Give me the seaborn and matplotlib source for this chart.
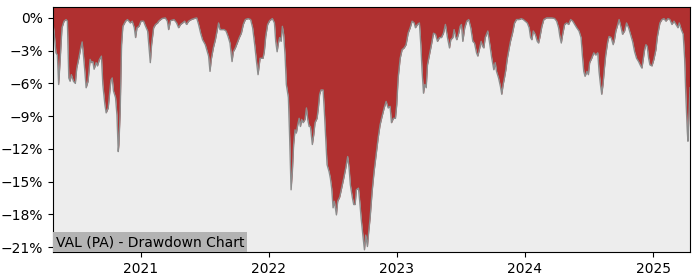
import datetime as dt
import numpy as np
import pandas as pd
import matplotlib
matplotlib.use("Agg")
import matplotlib.pyplot as plt
import matplotlib.dates as mdates
import matplotlib.ticker as mticker
import seaborn as sns

TITLE = "VAL (PA) - Drawdown Chart"

# dates as decimal years, drawdown in percent
year_pos = [
    2020.318, 2020.326, 2020.341, 2020.352, 2020.362, 2020.373, 2020.388, 2020.404, 2020.420, 2020.430,
    2020.441, 2020.451, 2020.461, 2020.477, 2020.492, 2020.503, 2020.519, 2020.534, 2020.545, 2020.555,
    2020.566, 2020.576, 2020.591, 2020.607, 2020.617, 2020.628, 2020.638, 2020.654, 2020.664, 2020.680,
    2020.695, 2020.706, 2020.722, 2020.732, 2020.748, 2020.758, 2020.769, 2020.779, 2020.789, 2020.805,
    2020.816, 2020.826, 2020.831, 2020.841, 2020.852, 2020.862, 2020.883, 2020.898, 2020.920, 2020.935,
    2020.951, 2020.961, 2020.972, 2020.988, 2021.003, 2021.023, 2021.039, 2021.055, 2021.066, 2021.076,
    2021.086, 2021.102, 2021.117, 2021.133, 2021.141, 2021.167, 2021.193, 2021.209, 2021.219, 2021.234,
    2021.261, 2021.281, 2021.297, 2021.312, 2021.328, 2021.344, 2021.359, 2021.375, 2021.396, 2021.417,
    2021.438, 2021.453, 2021.469, 2021.484, 2021.505, 2021.521, 2021.531, 2021.542, 2021.552, 2021.568,
    2021.584, 2021.599, 2021.609, 2021.620, 2021.636, 2021.652, 2021.667, 2021.683, 2021.698, 2021.714,
    2021.724, 2021.740, 2021.755, 2021.771, 2021.787, 2021.802, 2021.818, 2021.839, 2021.859, 2021.875,
    2021.891, 2021.906, 2021.917, 2021.933, 2021.956, 2021.966, 2021.977, 2021.992, 2022.008, 2022.029,
    2022.045, 2022.055, 2022.066, 2022.076, 2022.086, 2022.097, 2022.107, 2022.117, 2022.128, 2022.138,
    2022.154, 2022.164, 2022.175, 2022.185, 2022.195, 2022.206, 2022.216, 2022.227, 2022.238, 2022.248,
    2022.258, 2022.269, 2022.284, 2022.295, 2022.305, 2022.316, 2022.326, 2022.341, 2022.352, 2022.362,
    2022.378, 2022.388, 2022.398, 2022.409, 2022.425, 2022.435, 2022.445, 2022.456, 2022.472, 2022.482,
    2022.492, 2022.503, 2022.513, 2022.529, 2022.539, 2022.555, 2022.570, 2022.586, 2022.602, 2022.617,
    2022.628, 2022.638, 2022.654, 2022.664, 2022.675, 2022.685, 2022.701, 2022.711, 2022.722, 2022.738,
    2022.748, 2022.758, 2022.771, 2022.781, 2022.792, 2022.808, 2022.823, 2022.839, 2022.855, 2022.870,
    2022.886, 2022.902, 2022.917, 2022.933, 2022.948, 2022.959, 2022.974, 2022.990, 2023.000, 2023.011,
    2023.027, 2023.042, 2023.058, 2023.073, 2023.089, 2023.105, 2023.120, 2023.136, 2023.146, 2023.162,
    2023.177, 2023.188, 2023.198, 2023.209, 2023.219, 2023.230, 2023.240, 2023.255, 2023.271, 2023.287,
    2023.302, 2023.318, 2023.334, 2023.349, 2023.365, 2023.380, 2023.396, 2023.412, 2023.422, 2023.438,
    2023.448, 2023.459, 2023.469, 2023.484, 2023.495, 2023.505, 2023.516, 2023.531, 2023.547, 2023.562,
    2023.578, 2023.594, 2023.607, 2023.623, 2023.633, 2023.648, 2023.659, 2023.670, 2023.680, 2023.691,
    2023.701, 2023.711, 2023.727, 2023.742, 2023.758, 2023.769, 2023.779, 2023.795, 2023.810, 2023.820,
    2023.831, 2023.841, 2023.852, 2023.862, 2023.878, 2023.888, 2023.904, 2023.920, 2023.935, 2023.956,
    2023.972, 2023.988, 2024.003, 2024.019, 2024.034, 2024.045, 2024.055, 2024.066, 2024.081, 2024.097,
    2024.107, 2024.117, 2024.133, 2024.148, 2024.170, 2024.191, 2024.211, 2024.232, 2024.248, 2024.263,
    2024.273, 2024.284, 2024.295, 2024.310, 2024.326, 2024.341, 2024.357, 2024.373, 2024.388, 2024.404,
    2024.422, 2024.438, 2024.448, 2024.459, 2024.469, 2024.484, 2024.495, 2024.505, 2024.521, 2024.537,
    2024.552, 2024.568, 2024.578, 2024.589, 2024.599, 2024.609, 2024.620, 2024.630, 2024.646, 2024.656,
    2024.672, 2024.688, 2024.698, 2024.709, 2024.724, 2024.734, 2024.750, 2024.761, 2024.777, 2024.792,
    2024.808, 2024.823, 2024.839, 2024.855, 2024.870, 2024.886, 2024.902, 2024.912, 2024.922, 2024.933,
    2024.943, 2024.953, 2024.964, 2024.974, 2024.990, 2025.005, 2025.021, 2025.031, 2025.042, 2025.052,
    2025.068, 2025.084, 2025.099, 2025.115, 2025.130, 2025.146, 2025.162, 2025.177, 2025.193, 2025.203,
    2025.219, 2025.234, 2025.245, 2025.255, 2025.266, 2025.271, 2025.281, 2025.287,
]

drawdown_pct = [
    -0.5, -1.25, -3.2, -3.4, -6.1, -4.0, -0.9, -0.3, -0.15, -0.3,
    -5.5, -5.8, -5.2, -5.8, -6.0, -4.6, -3.7, -2.75, -2.2, -3.4,
    -4.9, -6.4, -5.8, -3.8, -4.1, -4.0, -4.7, -4.1, -4.4, -3.8,
    -3.5, -6.1, -7.95, -8.7, -8.25, -7.0, -5.7, -5.5, -6.7, -7.3,
    -8.9, -12.25, -11.6, -8.6, -2.45, -0.77, -0.3, -0.15, -0.46, -0.3,
    -0.9, -1.8, -0.9, -0.77, -0.3, -0.3, -0.77, -1.2, -2.75, -4.1,
    -2.45, -0.9, -0.6, -0.46, -0.3, -0.06, 0.0, -0.3, -1.07, -0.25,
    -0.15, -0.46, -0.9, -0.6, -0.46, -0.3, -0.6, -0.3, -0.15, -0.06,
    0.0, -0.6, -1.4, -2.0, -2.45, -3.1, -3.5, -4.9, -3.8, -2.75,
    -2.0, -1.07, -0.46, -1.07, -1.07, -1.07, -1.2, -1.7, -2.3, -4.0,
    -3.1, -2.75, -2.3, -1.8, -1.4, -0.6, -0.15, -0.06, -0.15, -0.9,
    -2.45, -4.1, -5.2, -3.7, -3.7, -3.1, -1.7, -0.6, -0.25, -0.06,
    -0.46, -2.15, -3.1, -2.3, -1.8, -2.15, -0.77, -1.5, -3.4, -6.1,
    -7.3, -11.0, -15.75, -14.1, -11.6, -10.25, -10.55, -9.8, -9.2, -9.95,
    -9.3, -9.6, -9.3, -8.25, -9.3, -9.95, -9.95, -11.6, -10.7, -9.6,
    -9.2, -8.25, -7.0, -6.6, -6.6, -8.6, -11.0, -13.45, -14.1, -14.7,
    -15.6, -17.4, -16.8, -18.05, -16.8, -16.4, -15.6, -14.7, -13.75, -12.7,
    -13.75, -15.3, -16.5, -17.1, -17.1, -15.75, -15.6, -16.8, -18.35, -20.2,
    -21.25, -19.9, -20.95, -19.6, -18.35, -15.9, -14.1, -12.55, -11.0, -9.8,
    -9.0, -8.25, -7.65, -8.25, -8.1, -9.6, -9.2, -9.2, -7.95, -5.5,
    -3.7, -2.9, -2.75, -2.45, -1.4, -0.9, -0.3, -0.46, -0.9, -0.6,
    -0.46, -2.45, -4.9, -6.9, -6.1, -6.4, -4.3, -3.4, -2.45, -1.4,
    -1.5, -2.15, -1.8, -1.8, -1.4, -0.6, -1.8, -2.75, -2.0, -1.8,
    -1.07, -1.7, -2.0, -1.4, -0.77, -0.6, -2.15, -0.9, -0.3, -0.15,
    -0.9, -2.15, -2.3, -3.2, -3.5, -2.75, -2.15, -2.6, -2.75, -1.8,
    -1.5, -1.2, -2.45, -3.7, -4.75, -4.1, -4.9, -5.5, -6.3, -7.0,
    -6.1, -5.5, -4.75, -3.8, -2.75, -2.15, -1.4, -0.46, -0.15, -0.15,
    -0.06, -0.15, -0.3, -0.46, -0.9, -1.8, -2.0, -1.2, -1.5, -2.15,
    -2.3, -1.8, -0.77, -0.15, 0.0, 0.0, 0.0, -0.06, -0.3, -0.9,
    -1.7, -2.3, -1.5, -0.6, -0.46, -0.6, -0.15, -0.3, -0.6, -0.9,
    -1.2, -1.8, -3.4, -4.9, -5.35, -4.9, -5.2, -4.1, -3.7, -3.2,
    -3.4, -3.2, -4.9, -6.1, -7.0, -6.1, -4.6, -3.4, -2.15, -1.7,
    -1.8, -2.45, -2.0, -1.2, -0.6, -0.15, -0.9, -1.5, -1.2, -0.46,
    -0.9, -1.5, -2.15, -3.1, -3.7, -4.0, -4.4, -4.6, -3.8, -2.9,
    -2.45, -2.6, -3.7, -4.3, -4.4, -3.8, -2.9, -1.8, -1.07, -0.46,
    -0.15, -0.06, -0.3, -0.06, -0.15, -0.6, -0.3, -0.6, -0.9, -0.46,
    -1.07, -1.5, -3.7, -7.3, -10.4, -11.3, -8.25, -6.4,
]

y_ticks = [0, -3, -6, -9, -12, -15, -18, -21]
y_limits = (-21.45, 1.0)

FILL_COLOR = "#B03030"
LINE_COLOR = "#8C8C8C"
BG_COLOR = "#EDEDED"
LABEL_BG = "#B3B3B3"


def decimal_year_to_date(v):
    year = int(np.floor(v))
    start = dt.datetime(year, 1, 1)
    end = dt.datetime(year + 1, 1, 1)
    return start + (end - start) * (v - year)


df = pd.DataFrame({
    "date": [decimal_year_to_date(v) for v in year_pos],
    "drawdown": drawdown_pct,
})

fig = plt.figure(figsize=(7.0, 2.8), dpi=100)
ax = fig.add_axes([53 / 700, 28 / 280, 637 / 700, 245 / 280])
ax.set_facecolor(BG_COLOR)

ax.fill_between(df["date"], df["drawdown"], y_limits[1], color=FILL_COLOR, linewidth=0, zorder=2)
sns.lineplot(data=df, x="date", y="drawdown", ax=ax, color=LINE_COLOR, linewidth=1.0, zorder=3)

ax.set_xlim(df["date"].iloc[0], df["date"].iloc[-1])
ax.set_ylim(*y_limits)
ax.set_yticks(y_ticks)
ax.yaxis.set_major_formatter(mticker.PercentFormatter(decimals=0))
ax.xaxis.set_major_locator(mdates.YearLocator())
ax.xaxis.set_major_formatter(mdates.DateFormatter("%Y"))
ax.set_xlabel("")
ax.set_ylabel("")
ax.tick_params(labelsize=10)
for s in ax.spines.values():
    s.set_zorder(5)

ax.text(0.005, 0.012, TITLE, transform=ax.transAxes, fontsize=10, ha="left", va="bottom",
        bbox=dict(facecolor=LABEL_BG, edgecolor="none", boxstyle="square,pad=0.2"), zorder=6)

fig.savefig("out.png", dpi=100)
